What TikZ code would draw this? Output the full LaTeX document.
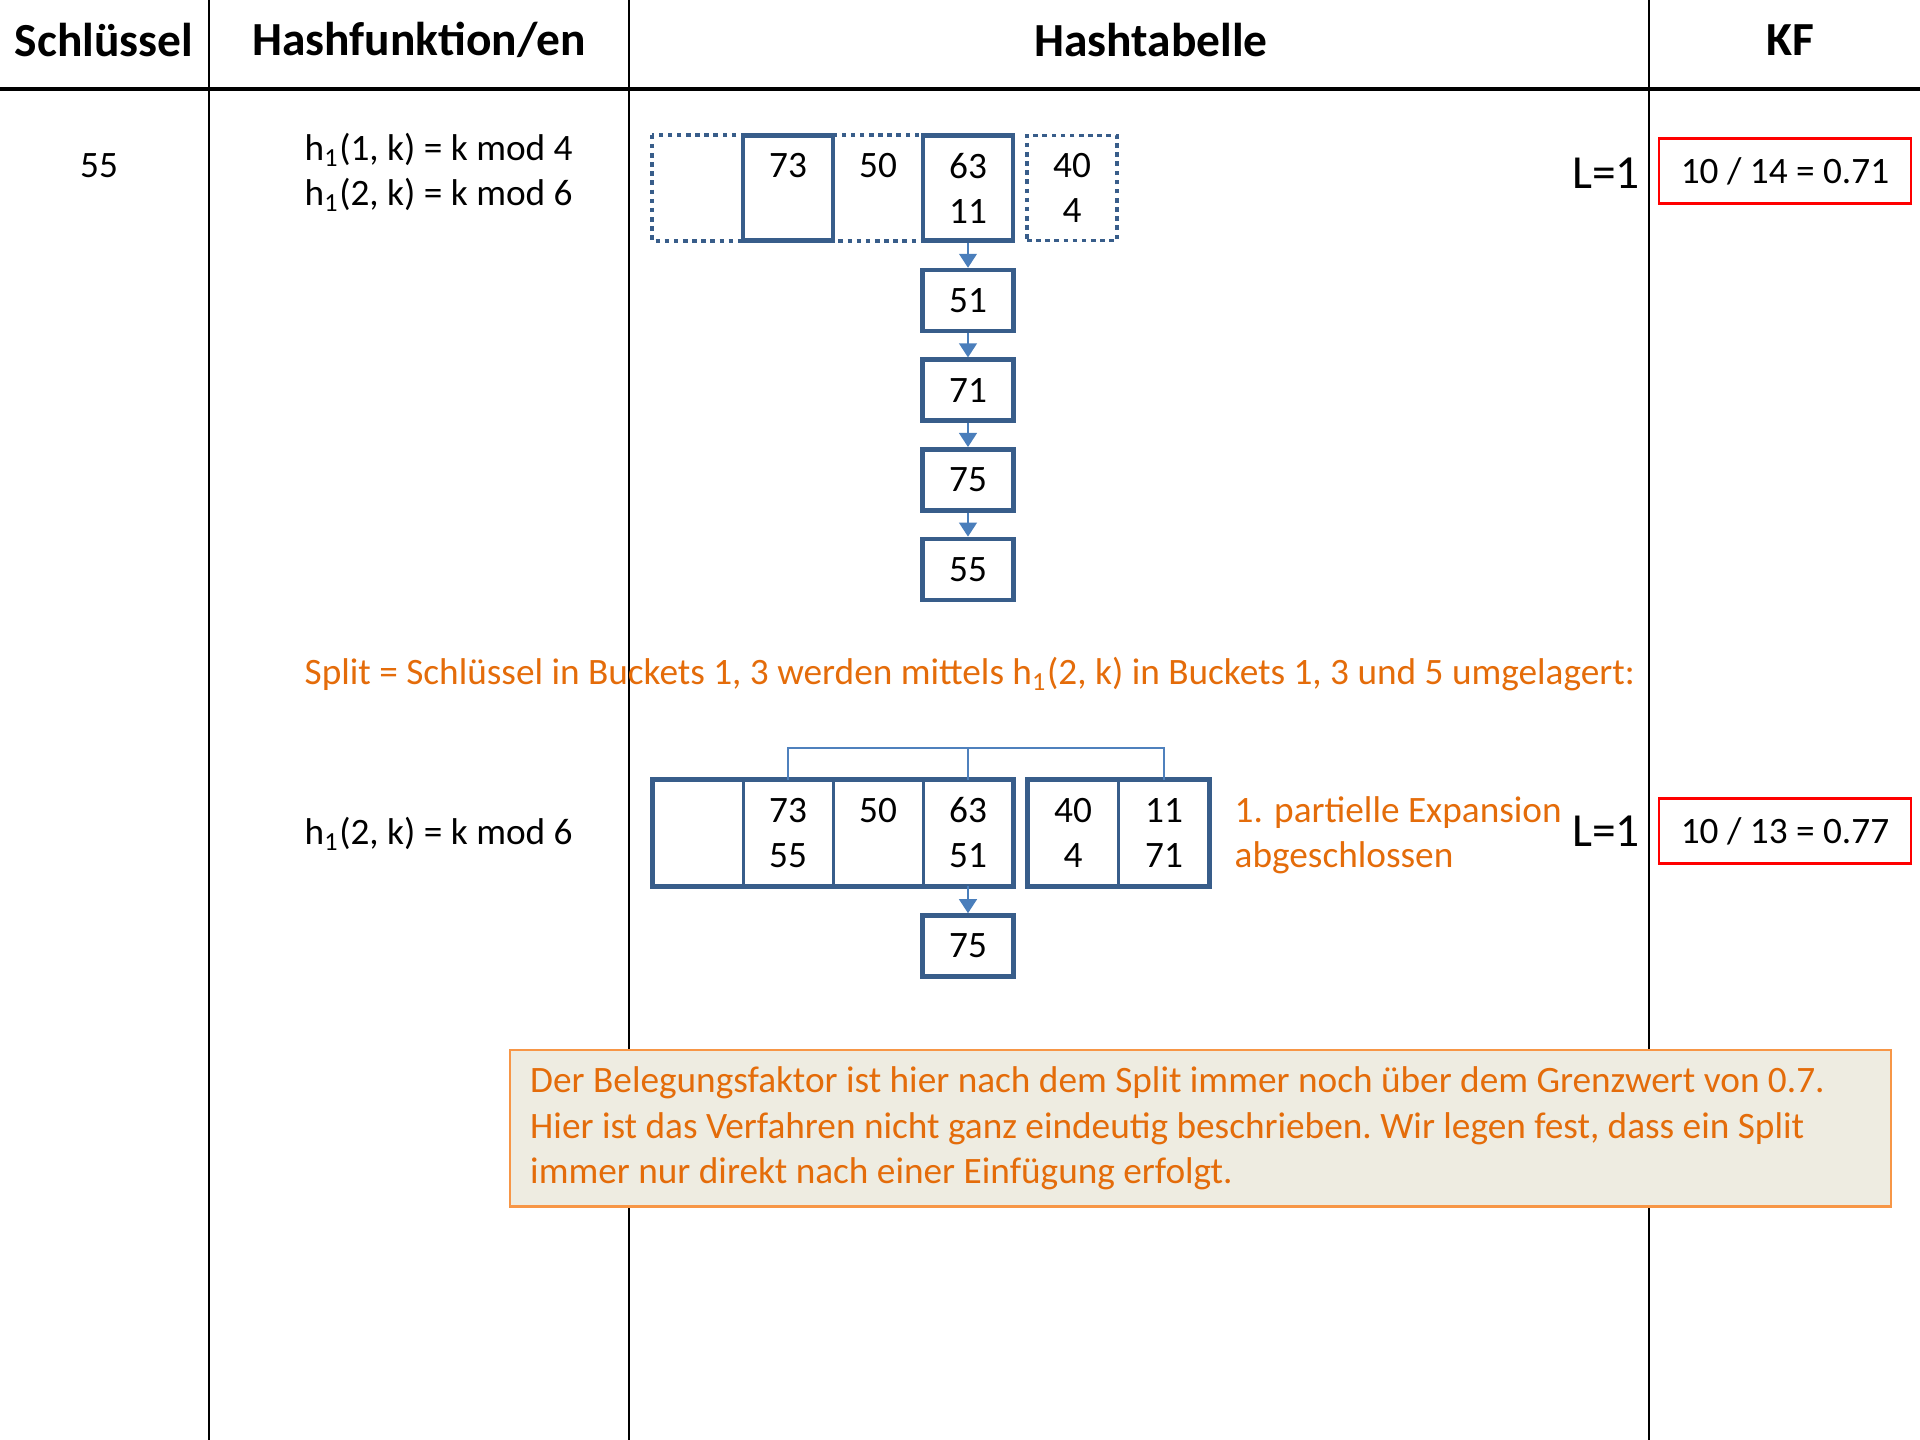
\documentclass[tikz,border=0pt]{standalone}
\usepackage{fontspec}
\setmainfont{Carlito}
\usepackage{xcolor}
\usetikzlibrary{arrows.meta,positioning,calc}

\definecolor{boxblue}{HTML}{385D8A}
\definecolor{arrblue}{HTML}{4A7EBB}
\definecolor{linkblue}{HTML}{4F81BD}
\definecolor{splitorange}{HTML}{E46C0A}
\definecolor{noteframe}{HTML}{F79646}
\definecolor{notefill}{HTML}{EEECE1}

\newcommand{\txtfont}{\fontsize{10.6}{12.8}\selectfont}
\newcommand{\hdfont}{\fontsize{13.5}{16}\selectfont\bfseries}
\newcommand{\lvlfont}{\fontsize{13.5}{16}\selectfont}

\tikzset{
  head/.style={font=\hdfont, inner sep=0pt},
  plain/.style={font=\txtfont, inner sep=0pt, align=left},
  cell/.style={minimum width=0.9cm, minimum height=1.05cm, inner sep=0pt, align=center, font=\txtfont},
  solidcell/.style={cell, draw=boxblue, line width=1.3pt},
  dotcell/.style={draw=boxblue, line width=1.1pt, dash pattern=on 1.3pt off 1.3pt},
  entry/.style={draw=boxblue, line width=1.3pt, minimum width=0.91cm, minimum height=0.61cm, inner sep=0pt, font=\txtfont},
  link/.style={arrblue, line width=0.7pt, -{Triangle[width=5pt,length=4pt]}},
  bracket/.style={linkblue, line width=0.6pt},
  lvl/.style={font=\lvlfont, inner sep=0pt},
  kf/.style={draw=red, line width=0.7pt, minimum width=2.52cm, minimum height=0.65cm, inner sep=0pt, font=\txtfont},
  orangetxt/.style={font=\txtfont, text=splitorange, inner sep=0pt, align=left},
  note/.style={draw=noteframe, fill=notefill, line width=0.7pt, font=\txtfont\frenchspacing, text=splitorange,
    text width=13.4cm, inner xsep=0.2cm, inner ysep=0pt, minimum height=1.56cm, align=flush left}
}

\begin{document}
\begin{tikzpicture}[x=0.01cm, y=-0.01cm]
    \useasboundingbox (0,0) rectangle (1920,1440);

    % table frame
    \draw[line width=0.9pt] (0,89) -- (1920,89);
    \foreach \xc in {209,629,1649}
      \draw[line width=0.5pt] (\xc,0) -- (\xc,1440);

    % header
    \node[head] (hkey) at (104,40) {Schlüssel};
    \node[head] (hfun) at (419,40) {Hashfunktion/en};
    \node[head] (htab) at (1151,40) {Hashtabelle};
    \node[head] (hkf) at (1790,40) {KF};

    % first row
    \node[plain] (key) at (99,166) {55};
    \node[plain, anchor=west] (fun1) at (304,172) {h\textsubscript{1}(1, k) = k mod 4\\h\textsubscript{1}(2, k) = k mod 6};

    \node[cell] (c1) at (698,188) {};
    \node[cell] (c3) at (878,188) {50\\\phantom{0}};
    \draw[dotcell] (c1.north west) rectangle (c3.south east -| 1013,0);
    \node[solidcell] (c2) at (788,188) {73\\\phantom{0}};
    \node[solidcell] (c4) at (968,188) {63\\11};
    \node[cell, dotcell] (c5) at (1072,188) {40\\4};

    % overflow chain
    \node[entry, below=0.25cm of c4] (b1) {51};
    \node[entry, below=0.24cm of b1] (b2) {71};
    \node[entry, below=0.24cm of b2] (b3) {75};
    \node[entry, below=0.24cm of b3] (b4) {55};
    \draw[link] (c4) -- (b1);
    \draw[link] (b1) -- (b2);
    \draw[link] (b2) -- (b3);
    \draw[link] (b3) -- (b4);

    \node[lvl] (lvl1) at (1606,173) {L=1};
    \node[kf] (kf1) at (1785,171) {10 / 14 = 0.71};

    % split
    \node[orangetxt, anchor=west] (split) at (304,674) {Split = Schlüssel in Buckets 1, 3 werden mittels h\textsubscript{1}(2, k) in Buckets 1, 3 und 5 umgelagert:};

    % second row
    \node[plain, anchor=west] (fun2) at (304,834) {h\textsubscript{1}(2, k) = k mod 6};

    \node[cell] (d1) at (698,833) {};
    \node[cell] (d2) at (788,833) {73\\55};
    \node[cell] (d3) at (878,833) {50\\\phantom{0}};
    \node[cell] (d4) at (968,833) {63\\51};
    \node[cell] (d5) at (1073,833) {40\\4};
    \node[cell] (d6) at (1164,833) {11\\71};
    \foreach \a/\b in {d1/d2,d2/d3,d3/d4,d5/d6}
      \draw[boxblue, line width=0.8pt] (\a.north east) -- (\a.south east);
    \draw[boxblue, line width=1.3pt] (d1.north west) rectangle (d4.south east);
    \draw[boxblue, line width=1.3pt] (d5.north west) rectangle (d6.south east);

    \draw[bracket] (d2.north) -- ++(0,-32) -| (d6.north);
    \draw[bracket] (d4.north) -- ++(0,-32);

    \node[entry, below=0.27cm of d4] (e1) {75};
    \draw[link] (d4) -- (e1);

    \node[orangetxt, anchor=west] (expand) at (1234,835) {1. partielle Expansion\\abgeschlossen};
    \node[lvl] (lvl2) at (1606,831) {L=1};
    \node[kf] (kf2) at (1785,831) {10 / 13 = 0.77};

    % remark
    \node[note, anchor=north west] (remark) at (509,1049) {Der Belegungsfaktor ist hier nach dem Split immer noch über dem Grenzwert von 0.7.\\Hier ist das Verfahren nicht ganz eindeutig beschrieben. Wir legen fest, dass ein Split\\immer nur direkt nach einer Einfügung erfolgt.};
\end{tikzpicture}
\end{document}
